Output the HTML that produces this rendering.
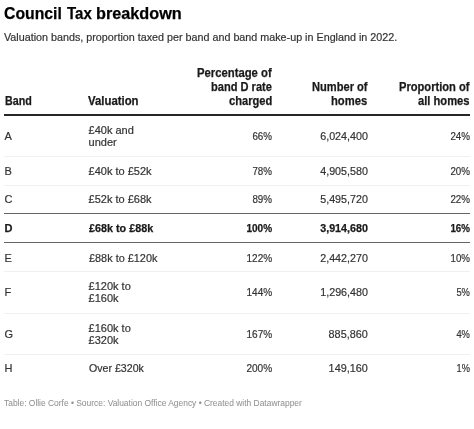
<!DOCTYPE html><html><head><meta charset="utf-8"><style>
html,body{margin:0;padding:0;background:#fff;width:474px;height:429px;overflow:hidden;position:relative}
.t{position:absolute;white-space:nowrap;font-family:'Liberation Sans', sans-serif;line-height:1}
.ln{position:absolute}
#w{position:absolute;left:0;top:0;width:474px;height:429px;will-change:transform}
</style></head><body><div id="w">
<div class="t" style="top:5px;font-size:17px;font-weight:700;color:#000;-webkit-text-stroke:0.25px #000;left:3.87px;transform:scaleX(0.9283);transform-origin:0 0;">Council</div>
<div class="t" style="top:5px;font-size:17px;font-weight:700;color:#000;-webkit-text-stroke:0.25px #000;left:67.00px;transform:scaleX(0.8821);transform-origin:0 0;">Tax</div>
<div class="t" style="top:5px;font-size:17px;font-weight:700;color:#000;-webkit-text-stroke:0.25px #000;left:95.94px;transform:scaleX(0.9557);transform-origin:0 0;">breakdown</div>
<div class="t" style="top:32px;font-size:11px;font-weight:400;color:#333;-webkit-text-stroke:0.2px #333;left:4.00px;transform:scaleX(0.9776);transform-origin:0 0;">Valuation bands, proportion taxed per band and band make-up in England in 2022.</div>
<div class="t" style="top:95px;font-size:12px;font-weight:700;color:#1a1a1a;-webkit-text-stroke:0.25px #1a1a1a;left:4.81px;transform:scaleX(0.8931);transform-origin:0 0;">Band</div>
<div class="t" style="top:95px;font-size:12px;font-weight:700;color:#1a1a1a;-webkit-text-stroke:0.25px #1a1a1a;left:88.00px;transform:scaleX(0.9472);transform-origin:0 0;">Valuation</div>
<div class="t" style="top:67px;font-size:12px;font-weight:700;color:#1a1a1a;-webkit-text-stroke:0.25px #1a1a1a;left:196.56px;transform:scaleX(0.9405);transform-origin:0 0;">Percentage of</div>
<div class="t" style="top:81px;font-size:12px;font-weight:700;color:#1a1a1a;-webkit-text-stroke:0.25px #1a1a1a;left:210.88px;transform:scaleX(0.9231);transform-origin:0 0;">band D rate</div>
<div class="t" style="top:95px;font-size:12px;font-weight:700;color:#1a1a1a;-webkit-text-stroke:0.25px #1a1a1a;left:229.20px;transform:scaleX(0.9261);transform-origin:0 0;">charged</div>
<div class="t" style="top:81px;font-size:12px;font-weight:700;color:#1a1a1a;-webkit-text-stroke:0.25px #1a1a1a;left:311.57px;transform:scaleX(0.9254);transform-origin:0 0;">Number of</div>
<div class="t" style="top:95px;font-size:12px;font-weight:700;color:#1a1a1a;-webkit-text-stroke:0.25px #1a1a1a;left:331.46px;transform:scaleX(0.9351);transform-origin:0 0;">homes</div>
<div class="t" style="top:81px;font-size:12px;font-weight:700;color:#1a1a1a;-webkit-text-stroke:0.25px #1a1a1a;left:399.27px;transform:scaleX(0.9280);transform-origin:0 0;">Proportion of</div>
<div class="t" style="top:95px;font-size:12px;font-weight:700;color:#1a1a1a;-webkit-text-stroke:0.25px #1a1a1a;left:418.40px;transform:scaleX(0.9309);transform-origin:0 0;">all homes</div>
<div class="t" style="top:131px;font-size:11px;font-weight:400;color:#333;-webkit-text-stroke:0.2px #333;left:4.50px;">A</div>
<div class="t" style="top:125px;font-size:11px;font-weight:400;color:#333;-webkit-text-stroke:0.2px #333;left:88.60px;">£40k and</div>
<div class="t" style="top:137px;font-size:11px;font-weight:400;color:#333;-webkit-text-stroke:0.2px #333;left:88.60px;">under</div>
<div class="t" style="top:131px;font-size:11px;font-weight:400;color:#333;-webkit-text-stroke:0.2px #333;right:202.00px;transform:scaleX(0.8909);transform-origin:100% 0;">66%</div>
<div class="t" style="top:131px;font-size:11px;font-weight:400;color:#333;-webkit-text-stroke:0.2px #333;right:106.50px;transform:scaleX(0.9755);transform-origin:100% 0;">6,024,400</div>
<div class="t" style="top:131px;font-size:11px;font-weight:400;color:#333;-webkit-text-stroke:0.2px #333;right:4.00px;transform:scaleX(0.8909);transform-origin:100% 0;">24%</div>
<div class="t" style="top:166px;font-size:11px;font-weight:400;color:#333;-webkit-text-stroke:0.2px #333;left:4.50px;">B</div>
<div class="t" style="top:166px;font-size:11px;font-weight:400;color:#333;-webkit-text-stroke:0.2px #333;left:88.60px;">£40k to £52k</div>
<div class="t" style="top:166px;font-size:11px;font-weight:400;color:#333;-webkit-text-stroke:0.2px #333;right:202.00px;transform:scaleX(0.8909);transform-origin:100% 0;">78%</div>
<div class="t" style="top:166px;font-size:11px;font-weight:400;color:#333;-webkit-text-stroke:0.2px #333;right:106.50px;transform:scaleX(0.9755);transform-origin:100% 0;">4,905,580</div>
<div class="t" style="top:166px;font-size:11px;font-weight:400;color:#333;-webkit-text-stroke:0.2px #333;right:4.00px;transform:scaleX(0.8909);transform-origin:100% 0;">20%</div>
<div class="t" style="top:194px;font-size:11px;font-weight:400;color:#333;-webkit-text-stroke:0.2px #333;left:4.50px;">C</div>
<div class="t" style="top:194px;font-size:11px;font-weight:400;color:#333;-webkit-text-stroke:0.2px #333;left:88.60px;">£52k to £68k</div>
<div class="t" style="top:194px;font-size:11px;font-weight:400;color:#333;-webkit-text-stroke:0.2px #333;right:202.00px;transform:scaleX(0.8909);transform-origin:100% 0;">89%</div>
<div class="t" style="top:194px;font-size:11px;font-weight:400;color:#333;-webkit-text-stroke:0.2px #333;right:106.50px;transform:scaleX(0.9755);transform-origin:100% 0;">5,495,720</div>
<div class="t" style="top:194px;font-size:11px;font-weight:400;color:#333;-webkit-text-stroke:0.2px #333;right:4.00px;transform:scaleX(0.8909);transform-origin:100% 0;">22%</div>
<div class="t" style="top:223px;font-size:11px;font-weight:700;color:#1a1a1a;-webkit-text-stroke:0.25px #1a1a1a;left:4.50px;">D</div>
<div class="t" style="top:223px;font-size:11px;font-weight:700;color:#1a1a1a;-webkit-text-stroke:0.25px #1a1a1a;left:88.60px;transform:scaleX(0.9815);transform-origin:0 0;">£68k to £88k</div>
<div class="t" style="top:223px;font-size:11px;font-weight:700;color:#1a1a1a;-webkit-text-stroke:0.25px #1a1a1a;right:202.00px;transform:scaleX(0.9143);transform-origin:100% 0;">100%</div>
<div class="t" style="top:223px;font-size:11px;font-weight:700;color:#1a1a1a;-webkit-text-stroke:0.25px #1a1a1a;right:106.50px;transform:scaleX(0.9755);transform-origin:100% 0;">3,914,680</div>
<div class="t" style="top:223px;font-size:11px;font-weight:700;color:#1a1a1a;-webkit-text-stroke:0.25px #1a1a1a;right:4.00px;transform:scaleX(0.8909);transform-origin:100% 0;">16%</div>
<div class="t" style="top:253px;font-size:11px;font-weight:400;color:#333;-webkit-text-stroke:0.2px #333;left:4.50px;">E</div>
<div class="t" style="top:253px;font-size:11px;font-weight:400;color:#333;-webkit-text-stroke:0.2px #333;left:88.60px;transform:scaleX(0.9899);transform-origin:0 0;">£88k to £120k</div>
<div class="t" style="top:253px;font-size:11px;font-weight:400;color:#333;-webkit-text-stroke:0.2px #333;right:202.00px;transform:scaleX(0.9111);transform-origin:100% 0;">122%</div>
<div class="t" style="top:253px;font-size:11px;font-weight:400;color:#333;-webkit-text-stroke:0.2px #333;right:106.50px;transform:scaleX(0.9755);transform-origin:100% 0;">2,442,270</div>
<div class="t" style="top:253px;font-size:11px;font-weight:400;color:#333;-webkit-text-stroke:0.2px #333;right:4.00px;transform:scaleX(0.8857);transform-origin:100% 0;">10%</div>
<div class="t" style="top:287px;font-size:11px;font-weight:400;color:#333;-webkit-text-stroke:0.2px #333;left:4.50px;">F</div>
<div class="t" style="top:281px;font-size:11px;font-weight:400;color:#333;-webkit-text-stroke:0.2px #333;left:88.60px;">£120k to</div>
<div class="t" style="top:293px;font-size:11px;font-weight:400;color:#333;-webkit-text-stroke:0.2px #333;left:88.60px;">£160k</div>
<div class="t" style="top:287px;font-size:11px;font-weight:400;color:#333;-webkit-text-stroke:0.2px #333;right:202.00px;transform:scaleX(0.9111);transform-origin:100% 0;">144%</div>
<div class="t" style="top:287px;font-size:11px;font-weight:400;color:#333;-webkit-text-stroke:0.2px #333;right:106.50px;transform:scaleX(0.9750);transform-origin:100% 0;">1,296,480</div>
<div class="t" style="top:287px;font-size:11px;font-weight:400;color:#333;-webkit-text-stroke:0.2px #333;right:4.00px;transform:scaleX(0.8500);transform-origin:100% 0;">5%</div>
<div class="t" style="top:329px;font-size:11px;font-weight:400;color:#333;-webkit-text-stroke:0.2px #333;left:4.50px;">G</div>
<div class="t" style="top:323px;font-size:11px;font-weight:400;color:#333;-webkit-text-stroke:0.2px #333;left:88.60px;">£160k to</div>
<div class="t" style="top:335px;font-size:11px;font-weight:400;color:#333;-webkit-text-stroke:0.2px #333;left:88.60px;">£320k</div>
<div class="t" style="top:329px;font-size:11px;font-weight:400;color:#333;-webkit-text-stroke:0.2px #333;right:202.00px;transform:scaleX(0.9111);transform-origin:100% 0;">167%</div>
<div class="t" style="top:329px;font-size:11px;font-weight:400;color:#333;-webkit-text-stroke:0.2px #333;right:106.50px;transform:scaleX(0.9850);transform-origin:100% 0;">885,860</div>
<div class="t" style="top:329px;font-size:11px;font-weight:400;color:#333;-webkit-text-stroke:0.2px #333;right:4.00px;transform:scaleX(0.8500);transform-origin:100% 0;">4%</div>
<div class="t" style="top:363px;font-size:11px;font-weight:400;color:#333;-webkit-text-stroke:0.2px #333;left:4.50px;">H</div>
<div class="t" style="top:363px;font-size:11px;font-weight:400;color:#333;-webkit-text-stroke:0.2px #333;left:88.60px;transform:scaleX(0.9649);transform-origin:0 0;">Over £320k</div>
<div class="t" style="top:363px;font-size:11px;font-weight:400;color:#333;-webkit-text-stroke:0.2px #333;right:202.00px;transform:scaleX(0.9143);transform-origin:100% 0;">200%</div>
<div class="t" style="top:363px;font-size:11px;font-weight:400;color:#333;-webkit-text-stroke:0.2px #333;right:106.50px;transform:scaleX(0.9846);transform-origin:100% 0;">149,160</div>
<div class="t" style="top:363px;font-size:11px;font-weight:400;color:#333;-webkit-text-stroke:0.2px #333;right:4.00px;transform:scaleX(0.8400);transform-origin:100% 0;">1%</div>
<div class="t" style="top:398px;font-size:9.5px;font-weight:400;color:#929292;-webkit-text-stroke:0.05px #929292;left:4.00px;transform:scaleX(0.8869);transform-origin:0 0;">Table: Ollie Corfe • Source: Valuation Office Agency • Created with Datawrapper</div>
<div class="ln" style="left:4px;top:114px;width:466px;height:2px;background:#262626"></div>
<div class="ln" style="left:4px;top:156px;width:466px;height:1px;background:#f0f0f0"></div>
<div class="ln" style="left:4px;top:185px;width:466px;height:1px;background:#f0f0f0"></div>
<div class="ln" style="left:4px;top:271px;width:466px;height:1px;background:#f0f0f0"></div>
<div class="ln" style="left:4px;top:313px;width:466px;height:1px;background:#f0f0f0"></div>
<div class="ln" style="left:4px;top:354px;width:466px;height:1px;background:#f0f0f0"></div>
<div class="ln" style="left:4px;top:213px;width:466px;height:1px;background:#666666"></div>
<div class="ln" style="left:4px;top:242px;width:466px;height:1px;background:#666666"></div>
</div></body></html>
